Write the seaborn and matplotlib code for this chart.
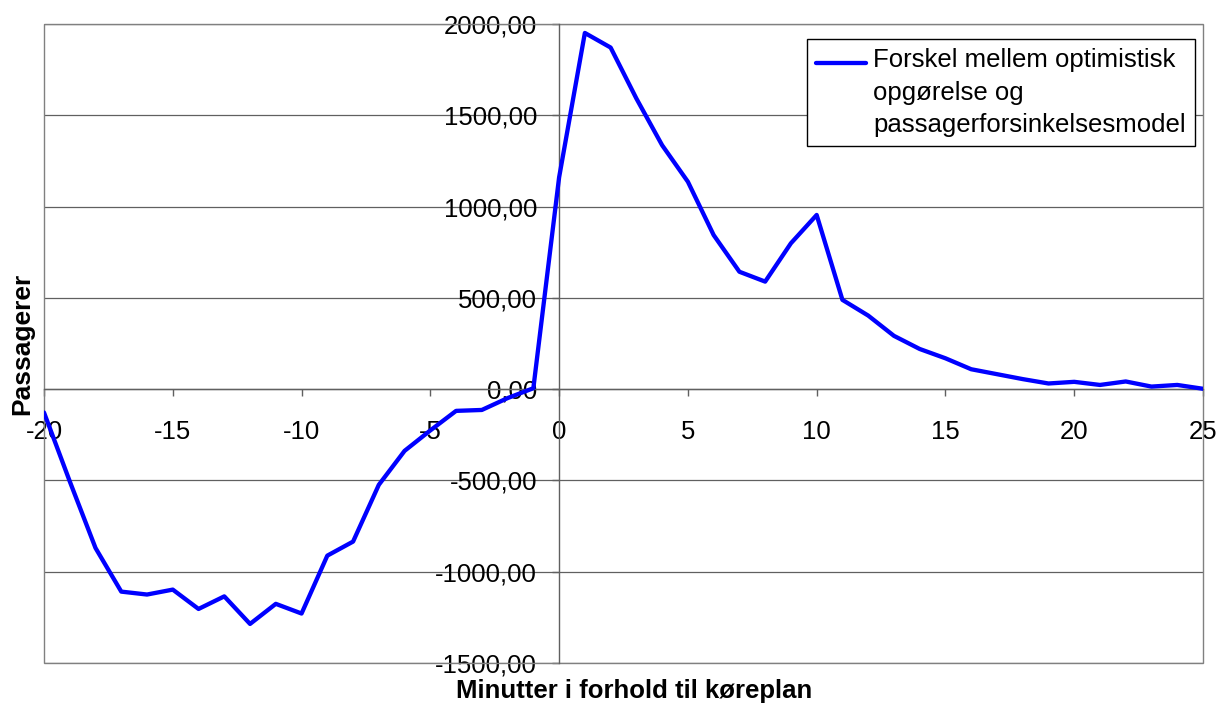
import matplotlib
matplotlib.use("Agg")
import matplotlib.pyplot as plt
from matplotlib.patches import Rectangle
from matplotlib.ticker import FuncFormatter, MultipleLocator
import pandas as pd
import seaborn as sns

# minutes relative to timetable
minutes = list(range(-20, 26))
# difference between optimistic count and passenger delay model
forskel = [-128, -505, -870, -1109, -1125, -1098, -1204, -1135, -1286, -1176,
           -1229, -912, -835, -524, -338, -226, -119, -114, -49, 5,
           1160, 1951, 1871, 1592, 1336, 1136, 844, 643, 589, 799,
           954, 489, 403, 292, 220, 169, 109, 82, 55, 31,
           40, 23, 42, 14, 23, 2]
legend_label = "Forskel mellem optimistisk\nopgørelse og\npassagerforsinkelsesmodel"
x_label = "Minutter i forhold til køreplan"
y_label = "Passagerer"

df = pd.DataFrame({"minut": minutes, "forskel": forskel})

sns.set_style("white")
plt.rcParams["font.family"] = ["Liberation Sans", "DejaVu Sans"]
plt.rcParams["axes.unicode_minus"] = False
for k in ["text.color", "axes.labelcolor", "xtick.labelcolor", "ytick.labelcolor"]:
    plt.rcParams[k] = "black"

FS = 18.5
W, H = 1218, 709
fig = plt.figure(figsize=(W / 100, H / 100), dpi=100)
ax = fig.add_axes([44 / W, 46 / H, 1159 / W, 639 / H])

sns.lineplot(data=df, x="minut", y="forskel", ax=ax, color="#0000ff",
             linewidth=3.1, label=legend_label, zorder=3)

ax.set_xlim(-20, 25)
ax.set_ylim(-1500, 2000)
ax.xaxis.set_major_locator(MultipleLocator(5))
ax.yaxis.set_major_locator(MultipleLocator(500))
ax.xaxis.set_major_formatter(FuncFormatter(lambda v, p: f"{v:.0f}"))
ax.yaxis.set_major_formatter(FuncFormatter(lambda v, p: f"{v:.2f}".replace(".", ",")))

# axes cross at zero like the original spreadsheet chart
ax.spines["left"].set_position(("data", 0))
ax.spines["bottom"].set_position(("data", 0))
for s in ["left", "bottom"]:
    ax.spines[s].set_color("#606060")
    ax.spines[s].set_linewidth(1)
for s in ["top", "right"]:
    ax.spines[s].set_visible(False)
ax.add_patch(Rectangle((0, 0), 1, 1, transform=ax.transAxes, fill=False,
                       edgecolor="#808080", linewidth=1, clip_on=False, zorder=2))

ax.yaxis.grid(True, color="#606060", linewidth=0.9)
ax.xaxis.grid(False)
ax.set_axisbelow(True)

ax.tick_params(axis="x", direction="out", length=5, width=1, color="#606060",
               pad=17, labelsize=FS, bottom=True)
ax.tick_params(axis="y", direction="out", length=5, width=1, color="#606060",
               pad=11, labelsize=FS, left=True)

ax.set_xlabel(x_label, fontsize=FS, fontweight="bold")
ax.xaxis.set_label_coords(0.509, -0.025)
ax.set_ylabel(y_label, fontsize=FS + 0.5, fontweight="bold")
ax.yaxis.set_label_coords(-0.008, 0.5)

leg = ax.legend(loc="upper right", bbox_to_anchor=(1195 / W, 1 - 39 / H),
                bbox_transform=fig.transFigure, borderaxespad=0, fontsize=FS,
                frameon=True, fancybox=False, framealpha=1, handlelength=1.95,
                handletextpad=0.3, borderpad=0.35, labelspacing=0.2)
leg.get_frame().set_edgecolor("black")
leg.get_frame().set_linewidth(1)
for t in leg.get_texts():
    t.set_linespacing(1.45)

# put the legend line next to the first text line, as in the original
fig.canvas.draw()
hline = leg.get_lines()[0]
txt = leg.get_texts()[0]
r = fig.canvas.get_renderer()
tb = txt.get_window_extent(r)
hb = hline.get_window_extent(r)
line_h = tb.height / 3
target = tb.y1 - line_h * 0.5
shift_pt = (target - (hb.y0 + hb.y1) / 2) * 72 / fig.dpi
hline.set_ydata([y + shift_pt for y in hline.get_ydata()])

fig.savefig("out.png", dpi=100)
